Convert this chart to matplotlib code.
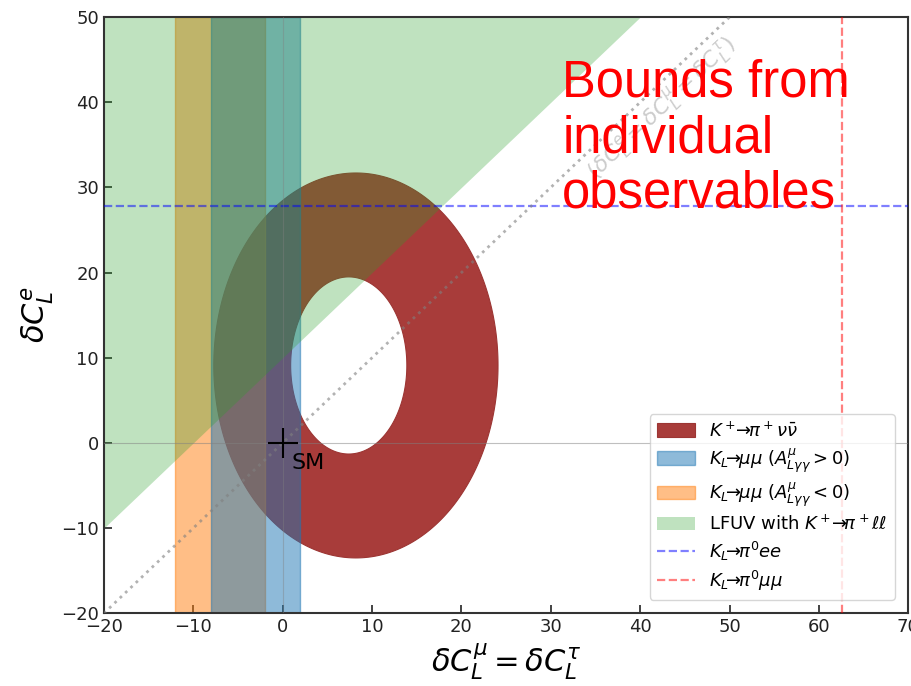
import numpy as np
import matplotlib
matplotlib.use("Agg")
import matplotlib.pyplot as plt
from matplotlib.path import Path
from matplotlib.patches import PathPatch

# --- constraint data -------------------------------------------------------
# K+ -> pi+ nu nubar allowed annulus (centre, semi-axes in dC_mu, dC_e)
kpnn_outer_center = (8.2, 9.1)
kpnn_outer_axes = (15.9, 22.6)
kpnn_inner_center = (7.4, 9.1)
kpnn_inner_axes = (6.5, 10.4)

# K_L -> mu mu vertical bands (dC_mu ranges)
klmm_pos_band = [-8.0, 2.0]    # A_{L gamma gamma} > 0
klmm_neg_band = [-12.0, -2.0]  # A_{L gamma gamma} < 0

# LFUV region above the line through these points
lfuv_x = [-20.0, 40.0]
lfuv_lower = [-10.0, 50.0]

# K_L -> pi0 ll bounds
klpiee_bound = 27.8   # on dC_e
klpimm_bound = 62.6   # on dC_mu

# Standard-model point
sm_point = (0.0, 0.0)

x_limits = (-20, 70)
y_limits = (-20, 50)
x_ticks = [-20, -10, 0, 10, 20, 30, 40, 50, 60, 70]
y_ticks = [-20, -10, 0, 10, 20, 30, 40, 50]

# --- figure ------------------------------------------------------------------
fig = plt.figure(figsize=(9.11, 6.86), dpi=100)
ax = fig.add_axes([0.114, 0.106, 0.883, 0.869])
ax.set_xlim(*x_limits)
ax.set_ylim(*y_limits)


def ellipse_ring(c_out, a_out, c_in, a_in, n=400):
    t = np.linspace(0, 2 * np.pi, n)
    xo = c_out[0] + a_out[0] * np.cos(t)
    yo = c_out[1] + a_out[1] * np.sin(t)
    xi = c_in[0] + a_in[0] * np.cos(t[::-1])
    yi = c_in[1] + a_in[1] * np.sin(t[::-1])
    verts = np.concatenate([np.column_stack([xo, yo]), np.column_stack([xi, yi])])
    codes = np.full(2 * n, Path.LINETO)
    codes[0] = Path.MOVETO
    codes[n] = Path.MOVETO
    return Path(verts, codes)


ring = PathPatch(ellipse_ring(kpnn_outer_center, kpnn_outer_axes,
                              kpnn_inner_center, kpnn_inner_axes),
                 facecolor="#a83c3a", edgecolor="#9c3533", lw=0.8, zorder=1,
                 label=r"$K^+\!\!\rightarrow\!\!\pi^+\nu\bar{\nu}$")
ax.add_patch(ring)

# orange band first so the blue band sits on top of it
neg = ax.axvspan(*klmm_neg_band, color="C1", alpha=0.5, zorder=2,
                 label=r"$K_L\!\!\rightarrow\!\!\mu\mu$ $(A^{\mu}_{L\gamma\gamma}<0)$")
pos = ax.axvspan(*klmm_pos_band, color="C0", alpha=0.5, zorder=2,
                 label=r"$K_L\!\!\rightarrow\!\!\mu\mu$ $(A^{\mu}_{L\gamma\gamma}>0)$")

lfuv = ax.fill_between(lfuv_x, lfuv_lower, [y_limits[1]] * len(lfuv_x),
                       color="C2", alpha=0.3, lw=0, zorder=2,
                       label=r"LFUV with $K^+\!\!\rightarrow\!\!\pi^+\ell\ell$")

ee, = ax.plot(x_limits, [klpiee_bound] * 2, color="blue", alpha=0.5, ls="--",
              lw=1.6, zorder=3, label=r"$K_L\!\!\rightarrow\!\!\pi^0 ee$")
mm, = ax.plot([klpimm_bound] * 2, y_limits, color="red", alpha=0.5, ls="--",
              lw=1.6, zorder=3, label=r"$K_L\!\!\rightarrow\!\!\pi^0\mu\mu$")

# reference lines
ax.axhline(0, color="gray", lw=0.8, alpha=0.5, zorder=3)
ax.axvline(0, color="gray", lw=0.8, alpha=0.4, zorder=3)
ax.plot(x_limits, x_limits, ls=":", color="gray", alpha=0.6, lw=2, zorder=3)
ax.text(42.4, 39.2, r"$(\delta C_L^e = \delta C_L^\mu = \delta C_L^\tau)$",
        color="gray", alpha=0.4, fontsize=16, rotation=45,
        transform_rotates_text=True, rotation_mode="anchor",
        ha="center", va="center", zorder=3)

# SM point
ax.plot(*sm_point, marker="+", color="black", markersize=22, mew=1.5, zorder=5)
ax.text(sm_point[0] + 1.0, sm_point[1] - 1.2, "SM", fontsize=16,
        ha="left", va="top", zorder=5)

ax.text(0.570, 0.93, "Bounds from\nindividual\nobservables",
        transform=ax.transAxes, color="red", fontsize=36.5,
        family="Liberation Sans", ha="left", va="top", linespacing=1.17,
        zorder=6)

ax.set_xticks(x_ticks)
ax.set_yticks(y_ticks)
ax.tick_params(direction="in", length=6, width=1.2, labelsize=13,
               colors="#222222")
for sp in ax.spines.values():
    sp.set_linewidth(1.5)
    sp.set_color("#333333")

ax.set_xlabel(r"$\delta C_L^\mu = \delta C_L^\tau$", fontsize=22)
ax.set_ylabel(r"$\delta C_L^e$", fontsize=22)

ax.legend([ring, pos, neg, lfuv, ee, mm],
          [h.get_label() for h in (ring, pos, neg, lfuv, ee, mm)],
          loc="lower right", fontsize=13, handlelength=2.1, handleheight=0.8,
          labelspacing=0.32, borderaxespad=0.75, fancybox=True)

fig.savefig("out.png", dpi=100)
